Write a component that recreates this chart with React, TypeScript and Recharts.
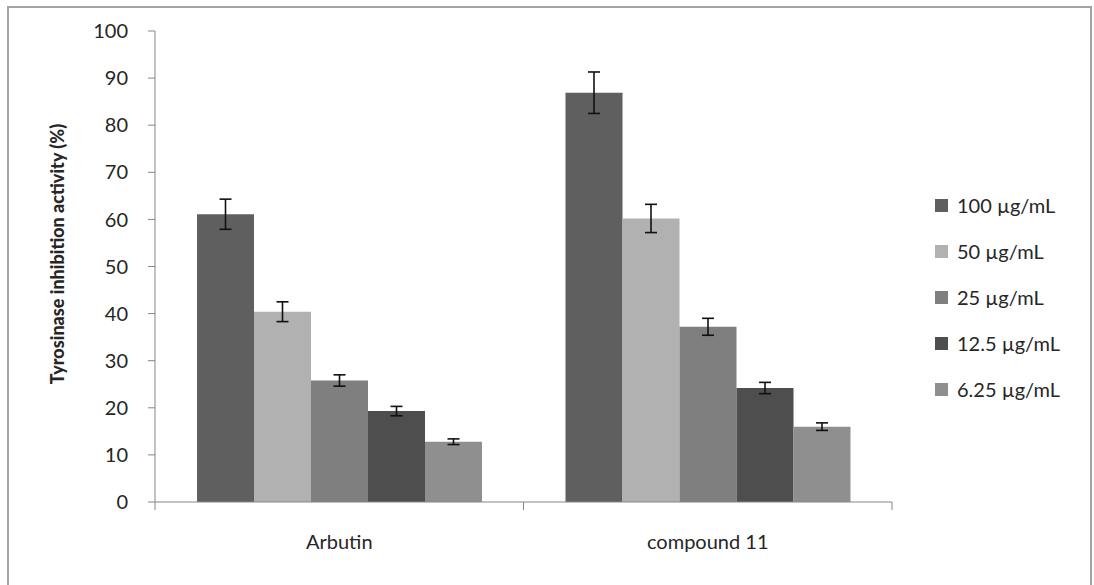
import { BarChart, Bar, XAxis, YAxis, ErrorBar } from "recharts";

const groups = ["Arbutin", "compound 11"];
const doses = ["100 µg/mL", "50 µg/mL", "25 µg/mL", "12.5 µg/mL", "6.25 µg/mL"];
const arbutinMean = [61.1, 40.4, 25.8, 19.3, 12.8];
const arbutinErr = [3.2, 2.1, 1.2, 1.0, 0.6];
const compoundMean = [86.9, 60.2, 37.2, 24.2, 16.0];
const compoundErr = [4.4, 3.0, 1.8, 1.2, 0.8];
const yTicks = [0, 10, 20, 30, 40, 50, 60, 70, 80, 90, 100];

const colors = ["#5f5f5f", "#b1b1b1", "#7f7f7f", "#4e4e4e", "#8f8f8f"];
const font = "Lato, 'Open Sans', sans-serif";
const textColor = "#262626";
const axisColor = "#868686";
const LABEL_GAP = 33;

const means = [arbutinMean, compoundMean];
const errs = [arbutinErr, compoundErr];

const data = groups.map((g, gi) => {
  const row: Record<string, string | number> = { name: g };
  doses.forEach((_, di) => {
    row[`d${di}`] = means[gi][di];
    row[`e${di}`] = errs[gi][di];
  });
  return row;
});

// category label plus Excel-style tick marks on the category boundaries
function CategoryTick(props: any) {
  const { x, y, payload, index, width, visibleTicksCount } = props;
  const band = width / visibleTicksCount;
  const axisY = y - LABEL_GAP;
  const last = index === visibleTicksCount - 1;
  return (
    <g>
      <line x1={x - band / 2} x2={x - band / 2} y1={axisY} y2={axisY + 8} stroke={axisColor} />
      {last && (
        <line x1={x + band / 2} x2={x + band / 2} y1={axisY} y2={axisY + 8} stroke={axisColor} />
      )}
      <text
        x={x}
        y={y}
        dy="0.71em"
        textAnchor="middle"
        fill={textColor}
        fontSize={20}
        fontFamily={font}
      >
        {payload.value}
      </text>
    </g>
  );
}

function YLabel() {
  return (
    <text
      x={57}
      y={254}
      transform="rotate(-90, 57, 254)"
      textAnchor="middle"
      dominantBaseline="central"
      fontFamily={font}
      fontWeight={900}
      fontSize={18}
      fill={textColor}
    >
      Tyrosinase inhibition activity (%)
    </text>
  );
}

export default function App() {
  return (
    <div
      style={{
        position: "relative",
        width: 1094,
        height: 585,
        background: "#fff",
        overflow: "hidden",
        fontFamily: font,
      }}
    >
      <style>{`body{margin:0}`}</style>
      <div
        style={{
          position: "absolute",
          left: 7,
          top: 6,
          width: 1081,
          height: 640,
          border: "2px solid #a3a3a3",
        }}
      />
      <BarChart
        width={1094}
        height={585}
        data={data}
        margin={{ top: 31, right: 202, bottom: 53, left: 95 }}
        barGap={0}
        style={{ position: "absolute", left: 0, top: 0 }}
      >
        <XAxis
          dataKey="name"
          height={30}
          axisLine={{ stroke: axisColor }}
          tickLine={false}
          tickSize={0}
          tickMargin={LABEL_GAP}
          tick={<CategoryTick />}
        />
        <YAxis
          width={60}
          domain={[0, 100]}
          ticks={yTicks}
          interval={0}
          axisLine={{ stroke: axisColor }}
          tickLine={{ stroke: axisColor }}
          tickSize={7}
          tickMargin={20}
          tick={{ fill: textColor, fontSize: 20, fontFamily: font }}
          label={{ content: () => <YLabel /> }}
        />
        {doses.map((d, di) => (
          <Bar
            key={d}
            dataKey={`d${di}`}
            name={d}
            fill={colors[di]}
            barSize={57}
            isAnimationActive={false}
          >
            <ErrorBar
              dataKey={`e${di}`}
              width={6}
              stroke="#111"
              strokeWidth={1.6}
              direction="y"
            />
          </Bar>
        ))}
      </BarChart>
      <div style={{ position: "absolute", left: 935, top: 182 }}>
        {doses.map((d, di) => (
          <div
            key={d}
            style={{ display: "flex", alignItems: "center", height: 46 }}
          >
            <span
              style={{
                width: 13,
                height: 13,
                background: colors[di],
                marginRight: 9,
                display: "inline-block",
              }}
            />
            <span style={{ fontSize: 20, color: textColor, lineHeight: "24px" }}>
              {d}
            </span>
          </div>
        ))}
      </div>
    </div>
  );
}
